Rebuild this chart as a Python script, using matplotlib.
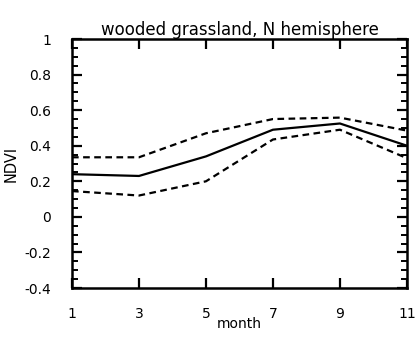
import matplotlib
matplotlib.use("Agg")
import matplotlib.pyplot as plt
from matplotlib.ticker import MultipleLocator, FuncFormatter

# monthly NDVI: mean with upper/lower envelope
months = [1, 3, 5, 7, 9, 11]
ndvi_mean = [0.24, 0.23, 0.34, 0.49, 0.525, 0.40]
ndvi_upper = [0.335, 0.335, 0.47, 0.55, 0.558, 0.485]
ndvi_lower = [0.145, 0.12, 0.20, 0.435, 0.49, 0.33]
yticks = [-0.4, -0.2, 0, 0.2, 0.4, 0.6, 0.8, 1]

plt.rcParams["font.family"] = ["DejaVu Sans"]

fig = plt.figure(figsize=(4.15, 3.41), dpi=100)
ax = fig.add_axes([0.1735, 0.1554, 0.807, 0.7302])

ax.plot(months, ndvi_mean, color="black", lw=1.6, solid_joinstyle="miter")
ax.plot(months, ndvi_upper, color="black", lw=1.6, ls=(0, (3, 2)))
ax.plot(months, ndvi_lower, color="black", lw=1.6, ls=(0, (3, 2)))

ax.set_xlim(1, 11)
ax.set_ylim(-0.4, 1)
ax.set_xticks(months)
ax.set_yticks(yticks)
ax.yaxis.set_minor_locator(MultipleLocator(0.05))
ax.yaxis.set_major_formatter(FuncFormatter(lambda v, _: "%g" % round(v, 2)))

ax.tick_params(axis="both", which="major", direction="in", length=7, width=1.6,
               labelsize=10, top=True, right=True)
ax.tick_params(axis="y", which="minor", direction="in", length=4, width=1.4,
               right=True)
ax.tick_params(axis="x", pad=14)
ax.tick_params(axis="y", pad=15)
for s in ax.spines.values():
    s.set_linewidth(1.8)

ax.set_title("wooded grassland, N hemisphere", fontsize=12, pad=3)
ax.set_xlabel("month", fontsize=10, labelpad=-3)
ax.set_ylabel("NDVI", fontsize=10.5)
ax.yaxis.set_label_coords(-0.16, 0.5)

fig.savefig("out.png", dpi=100)
